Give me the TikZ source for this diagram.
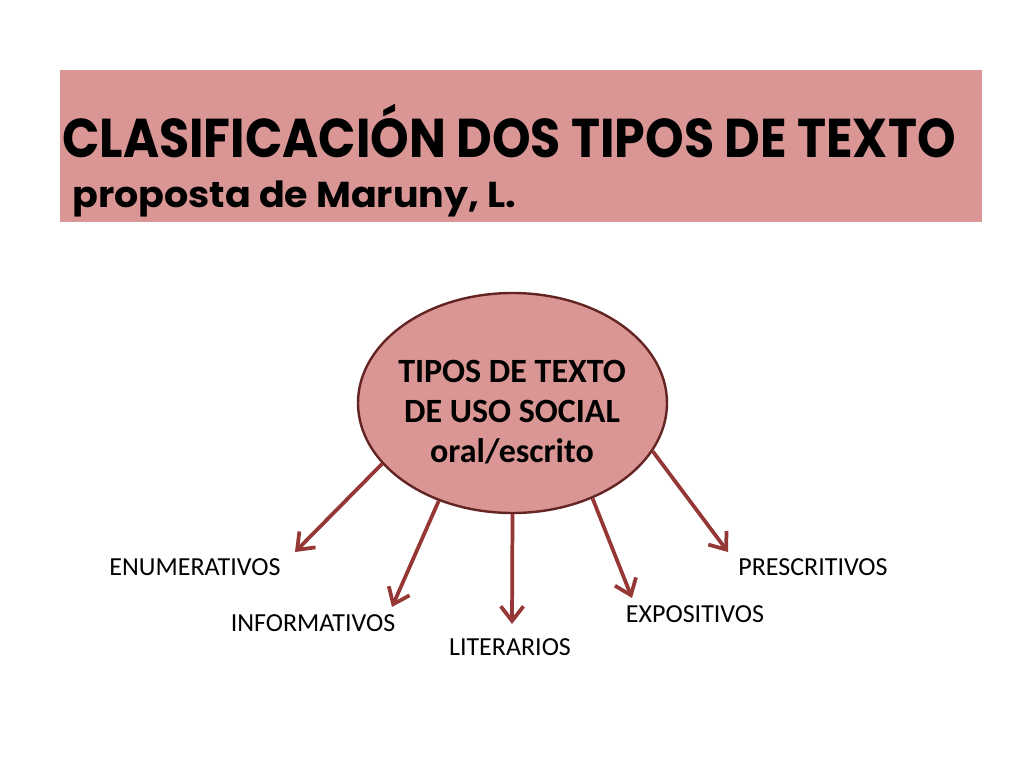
\documentclass[tikz,border=0pt]{standalone}
\usepackage{fontspec}
\usepackage{graphicx}
\setmainfont{Carlito}
\newfontfamily\titlefont{Poppins}
\usetikzlibrary{shapes.geometric,arrows.meta}
\definecolor{rosebox}{HTML}{D99694}
\definecolor{arrowred}{HTML}{953735}
\definecolor{ellline}{HTML}{632523}
\tikzset{
  conn/.style={draw=arrowred, line width=2.8pt, -{Straight Barb[length=11pt,width=17pt,line width=2.8pt]}},
  lab/.style={anchor=base, inner sep=0pt, font=\fontsize{19.5pt}{22pt}\selectfont},
}
\begin{document}
\begin{tikzpicture}[x=0.75pt,y=-0.75pt]
\useasboundingbox (0,0) rectangle (1024,768);
\fill[white] (0,0) rectangle (1024,768);
% title box
\node[fill=rosebox, minimum width=691.5pt, minimum height=114pt, inner sep=0pt, anchor=north west] (box) at (60,70) {};
\node[anchor=base west, inner sep=0pt] (title) at (62,157)
  {\resizebox{670pt}{\height}{\titlefont\bfseries\fontsize{41pt}{44pt}\selectfont CLASIFICACIÓN DOS TIPOS DE TEXTO}};
\node[anchor=base west, inner sep=0pt] (sub) at (72,207)
  {\resizebox{333pt}{\height}{\titlefont\bfseries\fontsize{27pt}{30pt}\selectfont proposta de Maruny, L.}};
% central ellipse
\node[ellipse, draw=ellline, line width=1.8pt, fill=rosebox, minimum width=231.75pt, minimum height=165pt, inner sep=0pt] (ell) at (512.5,403) {};
\node[align=center, inner sep=0pt, font=\bfseries\fontsize{25.5pt}{30pt}\selectfont] (etext) at (512,412)
  {TIPOS DE TEXTO\\DE USO SOCIAL\\oral/escrito};
% targets
\coordinate (t1) at (295,552);
\coordinate (t2) at (392,607);
\coordinate (t3) at (512,624);
\coordinate (t4) at (632,598);
\coordinate (t5) at (728,552);
\draw[conn] (ell.205) -- (t1);
\draw[conn] (ell.233) -- (t2);
\draw[conn] (ell.270) -- (t3);
\draw[conn] (ell.310) -- (t4);
\draw[conn] (ell.341) -- (t5);
% labels
\node[lab] (enum) at (195,575) {ENUMERATIVOS};
\node[lab] (info) at (313,631) {INFORMATIVOS};
\node[lab] (lit) at (510,655) {LITERARIOS};
\node[lab] (expo) at (695,622) {EXPOSITIVOS};
\node[lab] (pres) at (813,575) {PRESCRITIVOS};
\end{tikzpicture}
\end{document}
